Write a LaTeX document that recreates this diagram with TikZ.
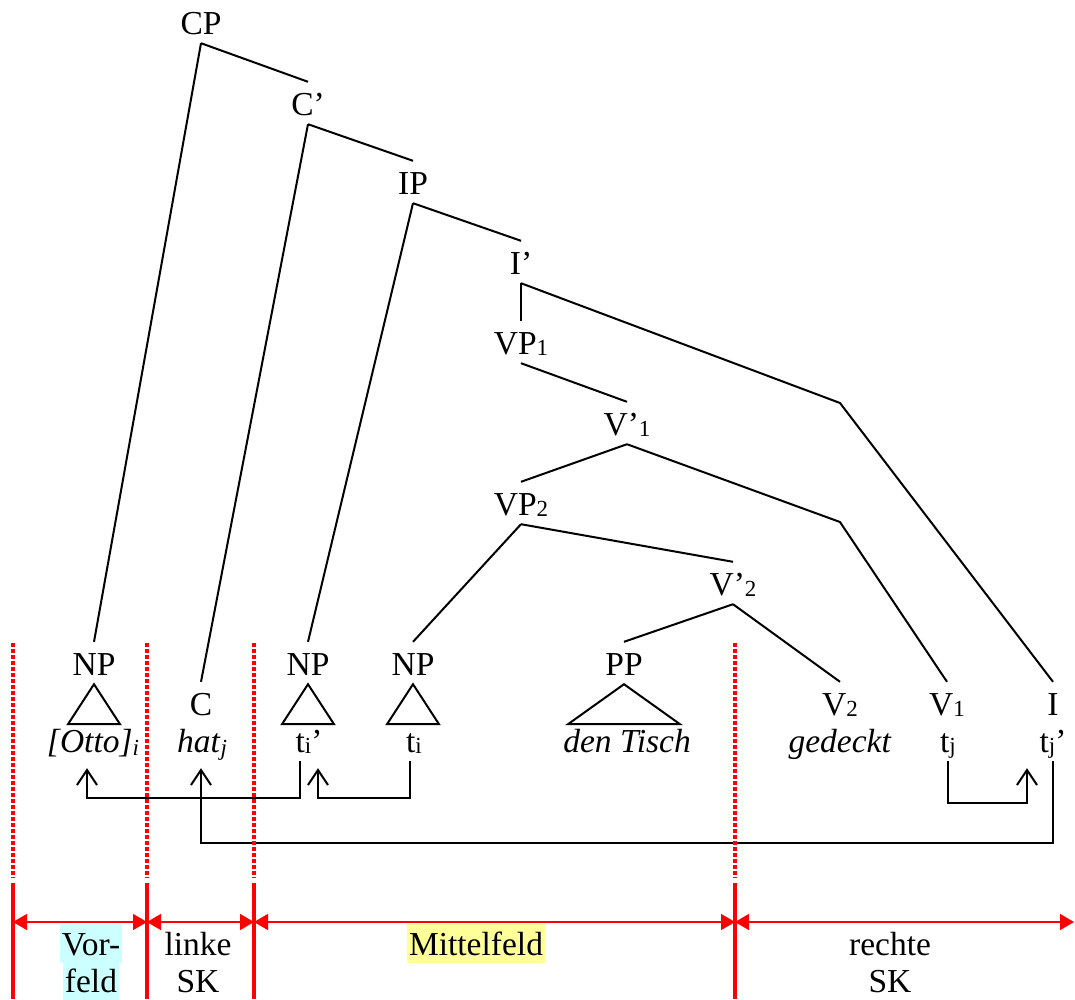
\documentclass[tikz,border=0pt]{standalone}
\usepackage{fontspec}
\setmainfont{Liberation Serif}
\usetikzlibrary{arrows.meta}
\definecolor{fieldred}{RGB}{255,0,0}
\definecolor{vfcyan}{RGB}{204,255,255}
\definecolor{mfyellow}{RGB}{255,255,153}
% small subscript set on (or just under) the baseline
\newcommand\mysub[1]{\raisebox{-1pt}{\fontsize{23}{23}\selectfont #1}}
\newcommand\myisub[1]{\raisebox{-3pt}{\fontsize{23}{23}\selectfont\itshape #1}}
\begin{document}
\begin{tikzpicture}[x=1pt,y=-1pt,
  every node/.style={font=\fontsize{33.5}{40}\selectfont},
  cat/.style={inner xsep=1pt, inner ysep=9pt, text height=24pt, text depth=0pt, anchor=base},
  hl/.style={inner xsep=2pt, inner ysep=0pt, text height=31pt, text depth=8pt, anchor=base},
  branch/.style={line width=2pt, black},
  mv/.style={line width=2pt, black, -{Straight Barb[length=15pt,width=20pt]}},
  dotline/.style={line width=3.5pt, fieldred, dash pattern=on 3.5pt off 2.5pt},
  solidline/.style={line width=3.2pt, fieldred},
  dimline/.style={line width=1.6pt, fieldred,
    {Triangle[length=14pt,width=16pt]}-{Triangle[length=14pt,width=16pt]}}]
\useasboundingbox (0,0) rectangle (1075,999);

% ---- category labels of the tree
\node[cat] (CP)   at (201,34)  {CP};
\node[cat] (Cb)   at (308,115) {C’};
\node[cat] (IP)   at (413,194) {IP};
\node[cat] (Ib)   at (521,274) {I’};
\node[cat] (VPa)  at (521,354) {VP\mysub{1}};
\node[cat] (Vba)  at (627,435) {V’\mysub{1}};
\node[cat] (VPb)  at (521,515) {VP\mysub{2}};
\node[cat] (Vbb)  at (733,595) {V’\mysub{2}};

\node[cat] (NPa)  at (94,675)  {NP};
\node[cat] (C)    at (201,715) {C};
\node[cat] (NPb)  at (308,675) {NP};
\node[cat] (NPc)  at (413,675) {NP};
\node[cat] (PP)   at (624,675) {PP};
\node[cat] (Vtwo) at (840,715) {V\mysub{2}};
\node[cat] (Vone) at (947,715) {V\mysub{1}};
\node[cat] (I)    at (1053,715) {I};

% ---- terminal strings
\node[cat] (Otto) at (93,752)   {\textit{[Otto]}\myisub{i}};
\node[cat] (hat)  at (202,752)  {\textit{hat}\myisub{j}};
\node[cat] (tip)  at (309,752)  {t\mysub{i}’};
\node[cat] (ti)   at (414,752)  {t\mysub{i}};
\node[cat] (dT)   at (627,752)  {\textit{den Tisch}};
\node[cat] (ged)  at (840,752)  {\textit{gedeckt}};
\node[cat] (tj)   at (948,752)  {t\mysub{j}};
\node[cat] (tjp)  at (1053,752) {t\mysub{j}’};

% ---- bend points of the long branches
\coordinate (bendI) at (840,403);
\coordinate (bendV) at (840,522);

% ---- branches
\draw[branch] (CP.south) -- (Cb.north);
\draw[branch] (CP.south) -- (NPa.north);
\draw[branch] (Cb.south) -- (IP.north);
\draw[branch] (Cb.south) -- (C.north);
\draw[branch] (IP.south) -- (Ib.north);
\draw[branch] (IP.south) -- (NPb.north);
\draw[branch] (Ib.south) -- (VPa.north);
\draw[branch] (Ib.south) -- (bendI) -- (I.north);
\draw[branch] (VPa.south) -- (Vba.north);
\draw[branch] (Vba.south) -- (VPb.north);
\draw[branch] (Vba.south) -- (bendV) -- (Vone.north);
\draw[branch] (VPb.south) -- (Vbb.north);
\draw[branch] (VPb.south) -- (NPc.north);
\draw[branch] (Vbb.south) -- (PP.north);
\draw[branch] (Vbb.south) -- (Vtwo.north);

% ---- triangles
\draw[branch, line join=miter] (NPa.south) -- ++(-26,40) -- ++(52,0) -- cycle;
\draw[branch, line join=miter] (NPb.south) -- ++(-26,40) -- ++(52,0) -- cycle;
\draw[branch, line join=miter] (NPc.south) -- ++(-26,40) -- ++(52,0) -- cycle;
\draw[branch, line join=miter] (PP.south)  -- ++(-56,40) -- ++(112,0) -- cycle;

% ---- movement arrows
\draw[mv] ([xshift=-9pt]tip.south) -- ++(0,37) -| ([xshift=-6pt,yshift=-7pt]Otto.south);
\draw[mv] ([xshift=-4pt]ti.south) -- ++(0,37) -| ([xshift=9pt,yshift=-7pt]tip.south);
\draw[mv] (tj.south) -- ++(0,42) -| ([xshift=-26pt,yshift=-7pt]tjp.south);
\draw[mv] (tjp.south) -- ++(0,82) -| ([xshift=-1pt,yshift=-7pt]hat.south);

% ---- field boundaries
\foreach \x in {13,147,254,735} {
  \draw[dotline] (\x,643) -- (\x,878);
  \draw[solidline] (\x,883) -- (\x,999);
}
\draw[dimline] (13,922) -- (147,922);
\draw[dimline] (147,922) -- (254,922);
\draw[dimline] (254,922) -- (735,922);
\draw[dimline] (735,922) -- (1074,922);

% ---- field names
\node[hl, fill=vfcyan] (vor1) at (91,955) {Vor-};
\node[hl, fill=vfcyan, text height=29pt] (vor2) at (91,992) {feld};
\node[hl] (lk1) at (198,955) {linke};
\node[hl] (lk2) at (198,992) {SK};
\node[hl, fill=mfyellow] (mf) at (476,955) {Mittelfeld};
\node[hl] (rs1) at (890,955) {rechte};
\node[hl] (rs2) at (890,992) {SK};
\end{tikzpicture}
\end{document}
